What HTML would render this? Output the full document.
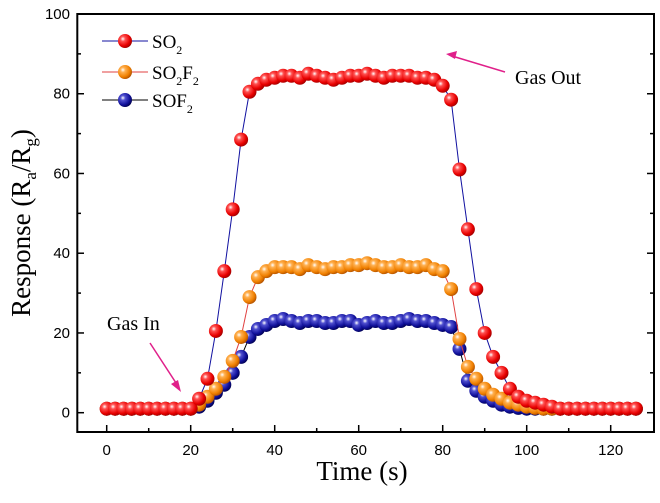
<!DOCTYPE html>
<html><head><meta charset="utf-8"><style>
body{margin:0;background:#fff}
svg text{font-family:"Liberation Serif",serif}
.tk{font-family:"Liberation Sans",sans-serif;font-size:15px}
</style></head><body>
<svg width="660" height="498" viewBox="0 0 660 498">
<defs>
<radialGradient id="gr" cx="0.35" cy="0.35" r="0.7"><stop offset="0" stop-color="#fff"/><stop offset="0.25" stop-color="#ff5050"/><stop offset="0.7" stop-color="#e80000"/><stop offset="1" stop-color="#a00000"/></radialGradient>
<radialGradient id="go" cx="0.35" cy="0.35" r="0.7"><stop offset="0" stop-color="#fff"/><stop offset="0.25" stop-color="#ffb050"/><stop offset="0.7" stop-color="#f08000"/><stop offset="1" stop-color="#b05000"/></radialGradient>
<radialGradient id="gb" cx="0.35" cy="0.35" r="0.7"><stop offset="0" stop-color="#fff"/><stop offset="0.25" stop-color="#5050d0"/><stop offset="0.7" stop-color="#10109a"/><stop offset="1" stop-color="#000050"/></radialGradient>
</defs>
<g id="plot"></g>
<rect x="77.3" y="14" width="576.7" height="418" fill="none" stroke="#000" stroke-width="2"/>
<g id="axes"></g>
<text x="362" y="480" font-size="27" text-anchor="middle">Time (s)</text>
<text transform="translate(30,223) rotate(-90)" font-size="27" text-anchor="middle">Response (R<tspan font-size="17" dy="6">a</tspan><tspan dy="-6">/R</tspan><tspan font-size="17" dy="6">g</tspan><tspan dy="-6">)</tspan></text>
<g>
<g><line x1="102" y1="41" x2="148" y2="41" stroke="#1010a0"/><circle cx="125" cy="41" r="7" fill="url(#gr)"/><text x="152" y="48" font-size="19">SO<tspan font-size="12" dy="6">2</tspan></text></g>
<g><line x1="102" y1="72" x2="148" y2="72" stroke="#e04040"/><circle cx="125" cy="72" r="7" fill="url(#go)"/><text x="152" y="79" font-size="19">SO<tspan font-size="12" dy="6">2</tspan><tspan dy="-6">F</tspan><tspan font-size="12" dy="6">2</tspan></text></g>
<g><line x1="102" y1="100" x2="148" y2="100" stroke="#000"/><circle cx="125" cy="100" r="7" fill="url(#gb)"/><text x="152" y="107" font-size="19">SOF<tspan font-size="12" dy="6">2</tspan></text></g>
</g>
<g><text x="107" y="330" font-size="20">Gas In</text><line x1="150" y1="343" x2="178" y2="386" stroke="#e0208a" stroke-width="1.5"/><polygon points="181,392 171,384 178,380" fill="#e0208a"/></g>
<g><text x="515" y="84" font-size="20">Gas Out</text><line x1="505" y1="72" x2="452" y2="56" stroke="#e0208a" stroke-width="1.5"/><polygon points="446,54 457,51 455,59" fill="#e0208a"/></g>
</svg>
<script>
const times=[];for(let t=0;t<=126;t+=2)times.push(t);
const so2=[1,1,1,1,1,1,1,1,1,1,1,3.5,8.5,20.5,35.5,51,68.5,80.5,82.5,83.5,84,84.5,84.5,84,85,84.5,84,83.5,84,84.5,84.5,85,84.5,84,84.5,84.5,84.5,84,84,83.5,82,78.5,61,46,31,20,14,10,6,4,3,2.5,2,1.5,1,1,1,1,1,1,1,1,1,1];
const so2f2=[1,1,1,1,1,1,1,1,1,1,1,2,4,6,9,13,19,29,34,35.5,36.5,36.5,36.5,36,37,36.5,36,36.5,36.5,37,37,37.5,37,36.5,36.5,37,36.5,36.5,37,36,35.5,31,18.5,11.5,8.5,6,4.5,3.5,2.5,2,1.5,1.2,1,1,1,1,1,1,1,1,1,1,1,1];
const sof2=[1,1,1,1,1,1,1,1,1,1,1,1.5,3,5,7,10,14,19,21,22,23,23.5,23,22.5,23,23,22.5,22.5,23,23,22,22.5,23,22.5,22.5,23,23.5,23,23,22.5,22,21.5,16,8,5.5,4,3,2,1.5,1.2,1,1,1,1,1,1,1,1,1,1,1,1,1,1];
const xTicks=[0,20,40,60,80,100,120];
const yTicks=[0,20,40,60,80,100];
const X=t=>106.7+t*4.2, Y=v=>412.7-v*3.987;
const NS='http://www.w3.org/2000/svg';
const plot=document.getElementById('plot'),axes=document.getElementById('axes');
function mk(tag,attrs,parent){const e=document.createElementNS(NS,tag);for(const k in attrs)e.setAttribute(k,attrs[k]);parent.appendChild(e);return e;}
const series=[[sof2,'#000','gb','sof2'],[so2f2,'#e04040','go','so2f2'],[so2,'#1010a0','gr','so2']];
series.forEach(([d,lc,g,nm])=>{
  const gg=mk('g',{},plot);
  
  
  const pl=mk('polyline',{points:d.map((v,i)=>X(times[i])+','+Y(v)).join(' '),fill:'none',stroke:lc,'stroke-width':1},gg);
  
  
  d.forEach((v,i)=>{const c=mk('circle',{cx:X(times[i]),cy:Y(v),r:7,fill:'url(#'+g+')'},gg);
    
    });
});
xTicks.forEach(t=>{mk('line',{x1:X(t),x2:X(t),y1:432,y2:425,stroke:'#000','stroke-width':1.5},axes);
  if(t<120)mk('line',{x1:X(t+10),x2:X(t+10),y1:432,y2:428,stroke:'#000','stroke-width':1.5},axes);
  const tx=mk('text',{x:X(t),y:455,'text-anchor':'middle',class:'tk'},axes);tx.textContent=t;
  
  });
yTicks.forEach(v=>{mk('line',{x1:77.3,x2:84,y1:Y(v),y2:Y(v),stroke:'#000','stroke-width':1.5},axes);
  mk('line',{x1:654,x2:647,y1:Y(v),y2:Y(v),stroke:'#000','stroke-width':1.5},axes);
  if(v<100){mk('line',{x1:77.3,x2:81,y1:Y(v+10),y2:Y(v+10),stroke:'#000','stroke-width':1.5},axes);mk('line',{x1:654,x2:650,y1:Y(v+10),y2:Y(v+10),stroke:'#000','stroke-width':1.5},axes);}
  const tx=mk('text',{x:70,y:Y(v)+5,'text-anchor':'end',class:'tk'},axes);tx.textContent=v;
  
  });
</script>
</body></html>
